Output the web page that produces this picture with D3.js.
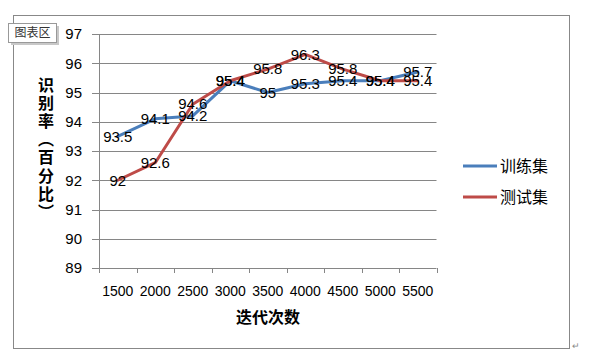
<!DOCTYPE html>
<html><head><meta charset="utf-8">
<script src="https://cdn.jsdelivr.net/npm/d3@7"></script>
<style>body{margin:0;background:#fff}svg{display:block}</style>
</head><body>
<script>
const categories = ["1500","2000","2500","3000","3500","4000","4500","5000","5500"];
const trainValues = [93.5,94.1,94.2,95.4,95,95.3,95.4,95.4,95.7];
const testValues = [92,92.6,94.6,95.4,95.8,96.3,95.8,95.4,95.4];
const yTicks = [89,90,91,92,93,94,95,96,97];
const seriesNames = ["训练集","测试集"];
const colors = ["#4a7ebb","#be4b48"];
const yTitleChars = ["识","别","率","︵","百","分","比","︶"];

const W=592,H=363;
const svg=d3.select("body").append("svg").attr("width",W).attr("height",H);
const numFont="'Liberation Sans', Arial, sans-serif";
const cjkFont="'Noto Sans CJK SC', sans-serif";

svg.append("rect").attr("x",13.5).attr("y",15.5).attr("width",556).attr("height",333)
  .attr("fill","#fff").attr("stroke","#888").attr("stroke-width",1);

const L=99,R=436.5,T=34,B=268;
const x=d3.scaleBand().domain(categories).range([L,R]);
const y=d3.scaleLinear().domain([89,97]).range([B,T]);

svg.append("g").selectAll("line").data(yTicks).join("line")
  .attr("x1",L-7).attr("x2",R).attr("y1",d=>Math.round(y(d))+0.5).attr("y2",d=>Math.round(y(d))+0.5)
  .attr("stroke","#868686").attr("stroke-width",1);
svg.append("g").selectAll("text").data(yTicks).join("text")
  .attr("x",82).attr("y",d=>y(d)).attr("dy","0.35em").attr("text-anchor","end")
  .attr("font-family",numFont).attr("font-size",15).attr("fill","#000").text(d=>d);

svg.append("line").attr("x1",L+0.5).attr("x2",L+0.5).attr("y1",T).attr("y2",B).attr("stroke","#868686");
const xTickPos=categories.map(c=>x(c)).concat([x(categories[categories.length-1])+x.bandwidth()]);
svg.append("g").selectAll("line").data(xTickPos).join("line")
  .attr("x1",d=>Math.round(d)+0.5).attr("x2",d=>Math.round(d)+0.5).attr("y1",B).attr("y2",B+5)
  .attr("stroke","#868686");
svg.append("g").selectAll("text").data(categories).join("text")
  .attr("x",d=>x(d)+x.bandwidth()/2).attr("y",291).attr("dy","0.35em").attr("text-anchor","middle")
  .attr("font-family",numFont).attr("font-size",14).attr("fill","#000").text(d=>d);

const line=d3.line().x((d,i)=>x(categories[i])+x.bandwidth()/2).y(d=>y(d));
[trainValues,testValues].forEach((vals,k)=>{
  svg.append("path").datum(vals).attr("d",line).attr("fill","none")
    .attr("stroke",colors[k]).attr("stroke-width",3).attr("stroke-linejoin","round").attr("stroke-linecap","round");
});
[trainValues,testValues].forEach((vals,k)=>{
  svg.append("g").selectAll("text").data(vals).join("text")
    .attr("x",(d,i)=>x(categories[i])+x.bandwidth()/2).attr("y",d=>y(d)).attr("dy","0.35em")
    .attr("text-anchor","middle").attr("font-family",numFont).attr("font-size",15).attr("fill","#000")
    .text(d=>d);
});

svg.append("g").selectAll("text").data(yTitleChars).join("text")
  .attr("x",46).attr("y",(d,i)=>85+i*18.2).attr("dy","0.35em").attr("text-anchor","middle")
  .attr("font-family",cjkFont).attr("font-weight","bold").attr("font-size",16).attr("fill","#000").text(d=>d);
svg.append("text").attr("x",268).attr("y",317).attr("dy","0.35em").attr("text-anchor","middle")
  .attr("font-family",cjkFont).attr("font-weight","bold").attr("font-size",16).attr("fill","#000").text("迭代次数");

seriesNames.forEach((n,k)=>{
  const ly=166+k*31;
  svg.append("line").attr("x1",463).attr("x2",497).attr("y1",ly).attr("y2",ly).attr("stroke",colors[k]).attr("stroke-width",3);
  svg.append("text").attr("x",500).attr("y",ly).attr("dy","0.35em").attr("font-family",cjkFont)
    .attr("font-size",16).attr("fill","#000").text(n);
});

svg.append("rect").attr("x",11).attr("y",26).attr("width",48).attr("height",19).attr("fill","#c8c8c8");
svg.append("rect").attr("x",8.5).attr("y",23.5).attr("width",48).attr("height",19).attr("fill","#fff").attr("stroke","#999");
svg.append("text").attr("x",32.5).attr("y",33).attr("dy","0.35em").attr("text-anchor","middle")
  .attr("font-family",cjkFont).attr("font-size",12).attr("fill","#333").text("图表区");
svg.append("text").attr("x",572).attr("y",349).attr("font-family",numFont).attr("font-size",9).attr("fill","#888").text("↵");
</script>
</body></html>
